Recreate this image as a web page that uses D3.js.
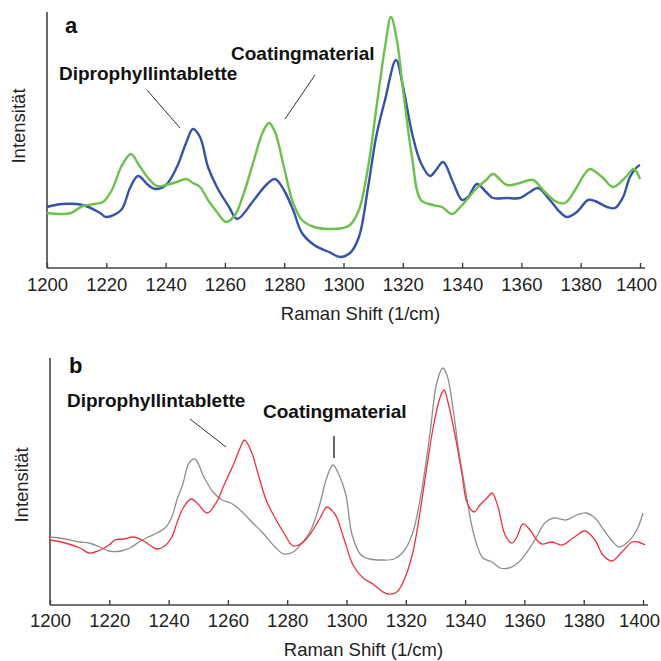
<!DOCTYPE html>
<html>
<head>
<meta charset="utf-8">
<script src="https://cdn.jsdelivr.net/npm/d3@7"></script>
<style>
body{margin:0;background:#fff;}
svg text{font-family:"Liberation Sans",Arial,sans-serif;}
</style>
</head>
<body>
<div id="chart"></div>
<script>
// Panel a: Diprophyllintablette (blau) und Coatingmaterial (grün)
var shiftA_blue=[1200,1205.1,1212.1,1217.9,1219.9,1225,1228,1230.7,1234.1,1236.4,1240.1,1243.8,1246.9,1249.2,1251.6,1254.3,1257.3,1261.4,1264.1,1269.8,1273.9,1276.9,1279.9,1283,1286,1290.1,1295.1,1298.8,1302.2,1305.2,1308.3,1311,1314,1317.7,1320.1,1323.1,1326.1,1329.2,1331.2,1333.6,1336.9,1340,1342,1345,1348.1,1350.4,1355.1,1359.5,1362.9,1365.6,1369.6,1373,1375.4,1378.7,1382.5,1384.8,1388.9,1391.6,1394.3,1396.6,1399,1400];
var intA_blue=[61,64,63,55,51,58,80,92,83,79,83,101,125,139,131,101,81,61,49,68,83,89,78,58,35,23,16,11,15,31,81,131,168,208,181,135,105,92,98,106,86,68,71,84,76,70,70,70,76,80,68,56,51,56,68,67,61,60,71,91,101,103];
var shiftA_green=[1200,1205.1,1208.1,1212.1,1215.9,1218.9,1221.9,1225,1228.3,1231,1234.1,1237.1,1240.1,1243.8,1246.9,1249.2,1251.6,1254.3,1257.3,1260.4,1263.4,1266.4,1269.8,1272.8,1274.9,1276.9,1279.9,1283,1286,1290.1,1295.1,1299.8,1302.2,1305.2,1308.3,1311,1314,1316,1318,1320.1,1323.1,1326.1,1330.2,1333.2,1336.6,1340,1345,1348.1,1350.4,1355.1,1359.5,1363.9,1367.9,1372,1374.7,1378.1,1381.1,1383.1,1387.2,1390.9,1394.9,1397.9,1400];
var intA_green=[55,54,55,62,64,66,78,101,114,103,90,82,83,86,89,85,81,68,56,46,53,75,108,136,145,136,101,65,48,41,39,40,43,58,101,158,221,251,228,178,111,68,63,61,54,63,80,88,94,83,85,88,76,66,65,78,93,99,91,81,90,99,89];

// Panel b: Diprophyllintablette (rot) und Coatingmaterial (grau)
var shiftB_red=[1200,1205.1,1210.1,1213.2,1216.9,1219.9,1221.9,1225,1228,1231,1234.1,1236.1,1239.1,1241.1,1242.8,1244.9,1247.6,1249.9,1253,1256,1259,1262.1,1264.1,1265.6,1268.1,1269.8,1272.9,1275.9,1278.9,1282,1285,1288,1291.1,1293.4,1295.8,1296.8,1299.5,1302.2,1305.6,1308.9,1312.3,1314,1317,1319.7,1322.4,1324.8,1327.2,1329.2,1331.5,1332.9,1334.2,1336.6,1339,1340.6,1343,1345,1347.4,1349.1,1351.1,1353.5,1355.8,1357.5,1359.5,1361.9,1364.2,1365.9,1369.3,1372.7,1376.4,1380.4,1383.8,1386.5,1389.5,1392.9,1396.3,1398.3,1400.7];
var intB_red=[65,62,57,52,55,60,65,66,68,65,59,56,60,68,82,97,106,101,92,102,122,142,157,165,152,135,105,87,72,59,62,72,87,98,92,87,63,40,27,21,13,11,13,27,53,93,140,177,207,215,203,170,130,103,93,100,107,112,98,70,62,68,81,75,65,61,63,60,67,74,65,50,44,53,63,63,60];
var shiftB_gray=[1200,1205.1,1210.1,1213.2,1216.9,1219.9,1223.9,1227,1230,1233.1,1236.1,1239.1,1241.1,1242.8,1244.9,1246.9,1248.9,1251.9,1255,1258,1261,1264.1,1268.1,1271.8,1275.9,1278.9,1282,1285,1288,1291.1,1293.1,1295.4,1297.8,1299.8,1301.9,1304.9,1307.9,1312,1316,1319.1,1322.1,1325.1,1328.2,1330.5,1332.5,1333.9,1335.9,1337.9,1340,1343,1346,1349.1,1351.8,1354.8,1357.8,1360.9,1363.9,1366.9,1369.9,1374,1377.7,1380.8,1383.8,1386.8,1389.9,1391.9,1394.9,1397.9,1400];
var intB_gray=[68,66,63,62,58,54,54,57,63,68,72,78,88,105,122,142,146,128,113,105,102,95,83,72,58,51,53,62,75,102,125,140,128,110,70,50,46,45,46,53,70,110,173,223,237,230,197,153,117,70,47,43,37,37,42,53,67,82,87,85,90,92,87,75,63,58,63,75,92];

var tickValues=[1200,1220,1240,1260,1280,1300,1320,1340,1360,1380,1400];
var xLabel='Raman Shift (1/cm)';
var yLabel='Intensität';

var W=661,H=661;
var svg=d3.select('#chart').append('svg').attr('width',W).attr('height',H);

function zip(xs,ys){ return xs.map(function(v,i){ return [v,ys[i]]; }); }

function drawPanel(opt){
    var x=d3.scaleLinear().domain([1200,1400]).range([opt.left,opt.right]);
    var y=d3.scaleLinear().domain([0,opt.ymax]).range([opt.bottom,opt.top]);
    var g=svg.append('g');

    // Achsen
    var xAxis=d3.axisBottom(x).tickValues(tickValues).tickFormat(d3.format('d'))
        .tickSize(-5).tickSizeOuter(0).tickPadding(opt.pad);
    var ax=g.append('g').attr('transform','translate(0,'+opt.bottom+')').call(xAxis);
    ax.select('.domain').remove();
    ax.selectAll('.tick line').attr('stroke','#333').attr('stroke-width',1.3);
    ax.selectAll('.tick text').attr('fill','#222').style('font-size','18.5px');
    // letztes Label etwas nach links, damit es nicht abgeschnitten wird
    ax.selectAll('.tick text').filter(function(d){return d===1400;}).attr('dx',-4);
    g.append('line').attr('x1',opt.left).attr('x2',opt.right+5)
        .attr('y1',opt.bottom).attr('y2',opt.bottom)
        .attr('stroke','#444').attr('stroke-width',1.6);
    g.append('line').attr('x1',opt.left).attr('x2',opt.left)
        .attr('y1',opt.top).attr('y2',opt.bottom)
        .attr('stroke','#444').attr('stroke-width',1.6);

    g.append('text').attr('x',(opt.left+opt.right)/2+17).attr('y',opt.bottom+opt.xlabOff)
        .attr('text-anchor','middle').attr('fill','#222').style('font-size','18.5px').text(xLabel);
    g.append('text').attr('transform','translate('+opt.ylabX+','+opt.ylabY+') rotate(-90)')
        .attr('text-anchor','middle').attr('fill','#222').style('font-size','18.5px').text(yLabel);

    var line=d3.line().x(function(d){return x(d[0]);}).y(function(d){return y(d[1]);})
        .curve(d3.curveCatmullRom.alpha(0.5));
    opt.series.forEach(function(s){
        g.append('path').datum(zip(s.xs,s.ys)).attr('d',line)
            .attr('fill','none').attr('stroke',s.color).attr('stroke-width',s.width)
            .attr('stroke-linejoin','round');
    });

    // Panel-Buchstabe und Beschriftungen
    g.append('text').attr('x',opt.letter[0]).attr('y',opt.letter[1])
        .style('font-size','22px').style('font-weight','bold').attr('fill','#111').text(opt.letter[2]);
    opt.notes.forEach(function(n){
        g.append('text').attr('x',n.tx).attr('y',n.ty)
            .style('font-size','19px').style('font-weight','bold').attr('fill','#111').text(n.text);
        g.append('line').attr('x1',n.l[0]).attr('y1',n.l[1]).attr('x2',n.l[2]).attr('y2',n.l[3])
            .attr('stroke','#333').attr('stroke-width',n.lw);
    });
}

drawPanel({
    left:47,right:640,top:12,bottom:268,ymax:256,pad:10,xlabOff:52,ylabX:25,ylabY:126,
    letter:[65,33,'a'],
    series:[
        {xs:shiftA_blue,ys:intA_blue,color:'#3352a8',width:2.4},
        {xs:shiftA_green,ys:intA_green,color:'#6cc04c',width:2.4}
    ],
    notes:[
        {text:'Diprophyllintablette',tx:59,ty:80,l:[147,90,180,128],lw:1},
        {text:'Coatingmaterial',tx:231,ty:60,l:[315,75,285,119],lw:1}
    ]
});

drawPanel({
    left:50,right:643,top:358,bottom:605,ymax:247,pad:9,xlabOff:51,ylabX:28,ylabY:485,
    letter:[69,373,'b'],
    series:[
        {xs:shiftB_gray,ys:intB_gray,color:'#8e8e8e',width:1.3},
        {xs:shiftB_red,ys:intB_red,color:'#ee3040',width:1.3}
    ],
    notes:[
        {text:'Diprophyllintablette',tx:67,ty:407,l:[190,419,226,447],lw:1},
        {text:'Coatingmaterial',tx:263,ty:418,l:[334,436,334,458],lw:1.5}
    ]
});
</script>
</body>
</html>
